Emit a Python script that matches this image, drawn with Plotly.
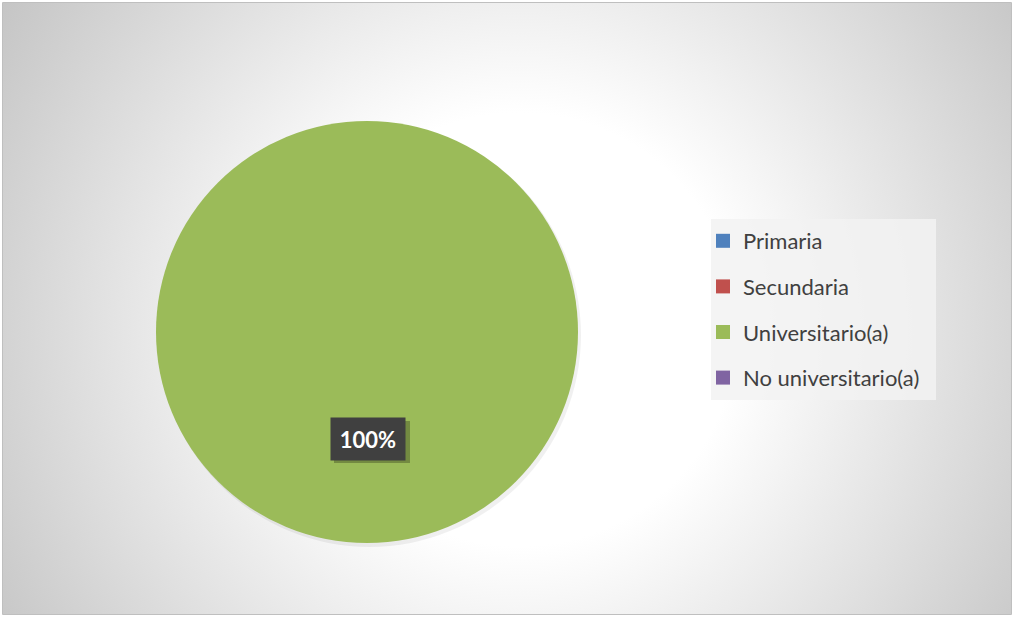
import base64
import plotly.graph_objects as go

W, H = 1013, 617

categories = ["Primaria", "Secundaria", "Universitario(a)", "No universitario(a)"]
values = [0, 0, 100, 0]
colors = ["#4f81bd", "#c0504d", "#9bbb59", "#8064a2"]

def px(x):
    return x / W

def py(y):
    return 1 - y / H

# background radial gradient as inline svg
svg = (
    '<svg xmlns="http://www.w3.org/2000/svg" width="1009" height="612" viewBox="0 0 1009 612" '
    'preserveAspectRatio="none"><defs><radialGradient id="g" gradientUnits="userSpaceOnUse" '
    'cx="517" cy="327" r="620"><stop offset="0" stop-color="#ffffff"/>'
    '<stop offset="0.35" stop-color="#ffffff"/><stop offset="1" stop-color="#c4c4c4"/>'
    '</radialGradient></defs><rect width="1009" height="612" fill="url(#g)"/></svg>'
)
bg_src = "data:image/svg+xml;base64," + base64.b64encode(svg.encode()).decode()

fig = go.Figure()

fig.add_trace(go.Pie(
    labels=categories,
    values=values,
    marker=dict(colors=colors, line=dict(width=0)),
    sort=False,
    direction="clockwise",
    textinfo="none",
    showlegend=False,
    domain=dict(x=[px(156), px(578)], y=[1 - 543 / H, 1 - 121 / H]),
))

# legend entries built from the same category/colour lists
for i, (c, col) in enumerate(zip(categories, colors)):
    fig.add_trace(go.Scatter(
        x=[None], y=[None], mode="markers", name=c,
        marker=dict(symbol="square", size=14, color=col),
        legendgroup=f"g{i}", showlegend=True, hoverinfo="skip",
    ))

total = sum(values)
main_idx = max(range(len(values)), key=lambda i: values[i])
pct_text = f"<b>{round(100 * values[main_idx] / total)}%</b>"

shapes = [
    # legend background
    dict(type="rect", xref="paper", yref="paper", layer="below",
         x0=px(711), x1=px(936), y0=py(400), y1=py(219),
         fillcolor="rgba(242,242,242,0.85)", line=dict(width=0)),
    # pie soft shadow
    dict(type="circle", xref="paper", yref="paper", layer="below",
         x0=px(156 + 2), x1=px(578 + 3), y0=py(543 + 4), y1=py(121 + 2),
         fillcolor="rgba(0,0,0,0.06)", line=dict(width=0)),
    # label shadow
    dict(type="rect", xref="paper", yref="paper", layer="above",
         x0=px(334), x1=px(410), y0=py(463), y1=py(421),
         fillcolor="rgba(40,50,20,0.35)", line=dict(width=0)),
    # chart frame
    dict(type="rect", xref="paper", yref="paper", layer="above",
         x0=px(2.5), x1=px(1011.5), y0=py(614.5), y1=py(2.5),
         line=dict(color="#bfbfbf", width=1), fillcolor="rgba(0,0,0,0)"),
]

fig.update_layout(
    width=W, height=H,
    margin=dict(l=0, r=0, t=0, b=0),
    paper_bgcolor="white",
    plot_bgcolor="rgba(0,0,0,0)",
    xaxis=dict(visible=False),
    yaxis=dict(visible=False),
    images=[dict(source=bg_src, xref="paper", yref="paper",
                 x=px(3), y=py(3), sizex=(1011 - 3) / W, sizey=(614 - 3) / H,
                 sizing="stretch", layer="below", xanchor="left", yanchor="top")],
    shapes=shapes,
    annotations=[dict(
        text=pct_text, xref="paper", yref="paper", x=px(368), y=py(438.5),
        xanchor="center", yanchor="middle",
        showarrow=False, font=dict(family="Lato", size=22, color="white"),
        bgcolor="#404040", width=60, height=28, borderpad=7,
    )],
    legend=dict(
        x=px(703), y=py(220), xanchor="left", yanchor="top",
        bgcolor="rgba(0,0,0,0)", borderwidth=0,
        font=dict(family="Lato", size=22, color="#404040"),
        tracegroupgap=14, itemclick=False,
    ),
    showlegend=True,
)

fig.write_html("out.html", config={"displayModeBar": False},
               post_script="document.body.style.margin='0';")
